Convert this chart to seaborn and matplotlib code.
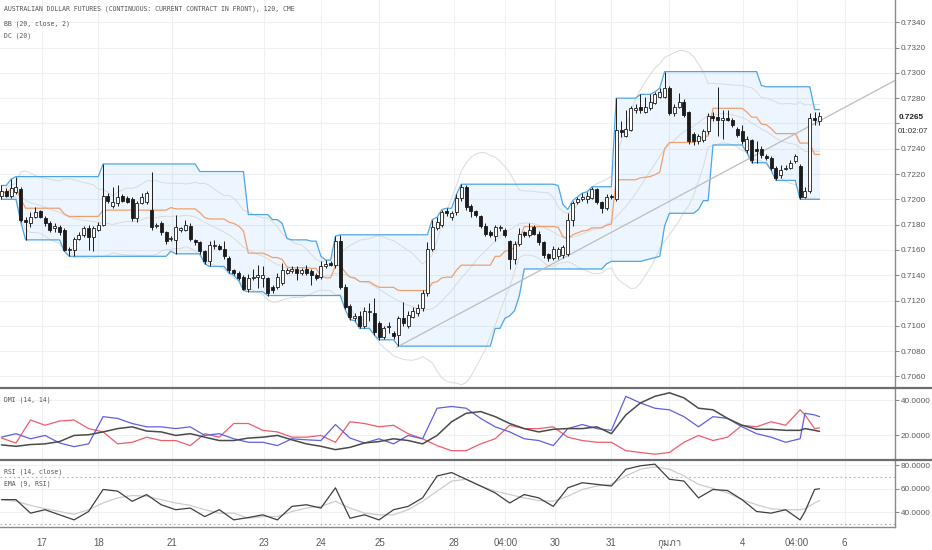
import numpy as np
import pandas as pd
import seaborn as sns
import matplotlib.pyplot as plt
import matplotlib.transforms as mtransforms
from matplotlib.lines import Line2D
from matplotlib import font_manager
from matplotlib.ft2font import FT2Font

# 120-minute bars (price)
opens = [0.7203, 0.7207, 0.7203, 0.7206, 0.7208, 0.7184, 0.7181, 0.7186, 0.7191, 0.7185,
         0.7181, 0.7177, 0.7178, 0.7176, 0.7160, 0.7160, 0.7169, 0.7172, 0.7177, 0.7170,
         0.7176, 0.7180, 0.7203, 0.7195, 0.7197, 0.7203, 0.7201, 0.7200, 0.7185, 0.7197,
         0.7198, 0.7192, 0.7179, 0.7181, 0.7174, 0.7169, 0.7168, 0.7176, 0.7176, 0.7179,
         0.7168, 0.7166, 0.7159,
         0.7151, 0.7163, 0.7163, 0.7161, 0.7154, 0.7144, 0.7142, 0.7139, 0.7129, 0.7138,
         0.7139, 0.7138, 0.7138, 0.7131, 0.7131, 0.7134, 0.7142, 0.7143, 0.7145, 0.7142,
         0.7145, 0.7143, 0.7140, 0.7139, 0.7147, 0.7150, 0.7148, 0.7167, 0.7131, 0.7116,
         0.7106, 0.7108, 0.7100, 0.7111, 0.7110, 0.7102, 0.7091, 0.7099, 0.7094, 0.7093,
         0.7106, 0.7100, 0.7107, 0.7110,
         0.7114, 0.7126, 0.7161, 0.7177, 0.7180, 0.7191, 0.7186, 0.7190, 0.7201, 0.7210,
         0.7195, 0.7191, 0.7187, 0.7179, 0.7174, 0.7171, 0.7177, 0.7176, 0.7167, 0.7153,
         0.7165, 0.7174, 0.7172, 0.7178, 0.7173, 0.7166, 0.7157, 0.7154, 0.7155, 0.7156,
         0.7157, 0.7184, 0.7198, 0.7200, 0.7200, 0.7201, 0.7208, 0.7198, 0.7193, 0.7203,
         0.7200,
         0.7255, 0.7250, 0.7255, 0.7271, 0.7273, 0.7269, 0.7272, 0.7276, 0.7281, 0.7281,
         0.7288, 0.7268, 0.7273, 0.7277, 0.7269, 0.7252, 0.7246, 0.7247, 0.7254, 0.7266,
         0.7265, 0.7263, 0.7264, 0.7263, 0.7256, 0.7254, 0.7239, 0.7247, 0.7240, 0.7240,
         0.7234, 0.7233, 0.7225, 0.7219, 0.7224, 0.7225, 0.7230, 0.7226, 0.7202, 0.7207,
         0.7264, 0.7262]
highs = [0.7211, 0.7209, 0.7216, 0.7218, 0.7210, 0.7186, 0.7190, 0.7194, 0.7192, 0.7187,
         0.7183, 0.7181, 0.7180, 0.7177, 0.7162, 0.7170, 0.7174, 0.7179, 0.7180, 0.7179,
         0.7182, 0.7228, 0.7205, 0.7210, 0.7211, 0.7204, 0.7203, 0.7202, 0.7199, 0.7205,
         0.7207, 0.7222, 0.7181, 0.7183, 0.7175, 0.7171, 0.7188, 0.7178, 0.7184, 0.7181,
         0.7169, 0.7167, 0.7160,
         0.7167, 0.7168, 0.7165, 0.7167, 0.7155, 0.7145, 0.7143, 0.7140, 0.7141, 0.7145,
         0.7148, 0.7147, 0.7139, 0.7132, 0.7142, 0.7150, 0.7146, 0.7147, 0.7147, 0.7146,
         0.7148, 0.7145, 0.7142, 0.7151, 0.7152, 0.7151, 0.7171, 0.7172, 0.7133, 0.7117,
         0.7110, 0.7112, 0.7115, 0.7118, 0.7122, 0.7104, 0.7100, 0.7103, 0.7096, 0.7108,
         0.7119, 0.7112, 0.7115, 0.7117,
         0.7128, 0.7166, 0.7184, 0.7186, 0.7192, 0.7193, 0.7191, 0.7204, 0.7212, 0.7211,
         0.7196, 0.7192, 0.7188, 0.7181, 0.7176, 0.7180, 0.7180, 0.7177, 0.7168, 0.7167,
         0.7177, 0.7175, 0.7181, 0.7180, 0.7175, 0.7167, 0.7158, 0.7163, 0.7162, 0.7164,
         0.7189, 0.7199, 0.7202, 0.7205, 0.7206, 0.7210, 0.7209, 0.7199, 0.7204, 0.7204,
         0.7280,
         0.7262, 0.7271, 0.7274, 0.7275, 0.7283, 0.7281, 0.7283, 0.7285, 0.7288, 0.7301,
         0.7290, 0.7275, 0.7284, 0.7279, 0.7270, 0.7253, 0.7252, 0.7256, 0.7268, 0.7269,
         0.7289, 0.7271, 0.7271, 0.7264, 0.7257, 0.7259, 0.7250, 0.7248, 0.7246, 0.7242,
         0.7236, 0.7234, 0.7226, 0.7227, 0.7227, 0.7231, 0.7236, 0.7228, 0.7210, 0.7268,
         0.7269, 0.7269]
lows = [0.7200, 0.7202, 0.7201, 0.7204, 0.7182, 0.7168, 0.7178, 0.7185, 0.7185, 0.7179,
        0.7174, 0.7174, 0.7172, 0.7159, 0.7155, 0.7155, 0.7168, 0.7170, 0.7160, 0.7159,
        0.7175, 0.7179, 0.7197, 0.7193, 0.7195, 0.7198, 0.7197, 0.7183, 0.7182, 0.7196,
        0.7196, 0.7176, 0.7177, 0.7172, 0.7165, 0.7167, 0.7157, 0.7174, 0.7175, 0.7167,
        0.7164, 0.7157, 0.7149,
        0.7147, 0.7161, 0.7160, 0.7153, 0.7142, 0.7140, 0.7136, 0.7128, 0.7127, 0.7136,
        0.7130, 0.7131, 0.7124, 0.7126, 0.7129, 0.7132, 0.7141, 0.7142, 0.7136, 0.7140,
        0.7140, 0.7132, 0.7136, 0.7137, 0.7146, 0.7147, 0.7146, 0.7129, 0.7113, 0.7105,
        0.7104, 0.7098, 0.7098, 0.7104, 0.7093, 0.7089, 0.7090, 0.7094, 0.7090, 0.7084,
        0.7100, 0.7098, 0.7106, 0.7108,
        0.7112, 0.7124, 0.7159, 0.7176, 0.7178, 0.7187, 0.7184, 0.7188, 0.7199, 0.7192,
        0.7186, 0.7186, 0.7177, 0.7171, 0.7170, 0.7167, 0.7175, 0.7170, 0.7145, 0.7149,
        0.7163, 0.7170, 0.7170, 0.7172, 0.7164, 0.7154, 0.7151, 0.7152, 0.7153, 0.7154,
        0.7155, 0.7179, 0.7196, 0.7199, 0.7197, 0.7200, 0.7196, 0.7189, 0.7192, 0.7200,
        0.7199,
        0.7249, 0.7249, 0.7254, 0.7268, 0.7268, 0.7268, 0.7271, 0.7275, 0.7280, 0.7280,
        0.7267, 0.7266, 0.7272, 0.7265, 0.7244, 0.7243, 0.7244, 0.7245, 0.7252, 0.7262,
        0.7250, 0.7248, 0.7262, 0.7257, 0.7249, 0.7244, 0.7237, 0.7229, 0.7229, 0.7233,
        0.7231, 0.7223, 0.7215, 0.7217, 0.7223, 0.7224, 0.7229, 0.7200, 0.7201, 0.7205,
        0.7259, 0.7259]
closes = [0.7207, 0.7203, 0.7209, 0.7210, 0.7184, 0.7182, 0.7186, 0.7190, 0.7186, 0.7181,
          0.7176, 0.7179, 0.7174, 0.7160, 0.7161, 0.7169, 0.7172, 0.7177, 0.7170, 0.7177,
          0.7180, 0.7203, 0.7199, 0.7198, 0.7202, 0.7199, 0.7198, 0.7185, 0.7197, 0.7202,
          0.7205, 0.7178, 0.7180, 0.7174, 0.7167, 0.7169, 0.7178, 0.7177, 0.7180, 0.7169,
          0.7166, 0.7159, 0.7151,
          0.7164, 0.7164, 0.7161, 0.7155, 0.7144, 0.7142, 0.7138, 0.7129, 0.7138, 0.7139,
          0.7140, 0.7140, 0.7126, 0.7128, 0.7139, 0.7144, 0.7144, 0.7145, 0.7142, 0.7144,
          0.7142, 0.7140, 0.7138, 0.7147, 0.7149, 0.7148, 0.7167, 0.7131, 0.7115, 0.7107,
          0.7108, 0.7100, 0.7112, 0.7112, 0.7095, 0.7091, 0.7098, 0.7100, 0.7092, 0.7106,
          0.7102, 0.7109, 0.7112, 0.7114,
          0.7126, 0.7161, 0.7178, 0.7182, 0.7190, 0.7189, 0.7189, 0.7201, 0.7210, 0.7194,
          0.7191, 0.7188, 0.7179, 0.7173, 0.7172, 0.7178, 0.7178, 0.7172, 0.7153, 0.7165,
          0.7173, 0.7172, 0.7176, 0.7173, 0.7166, 0.7156, 0.7154, 0.7161, 0.7161, 0.7162,
          0.7184, 0.7197, 0.7200, 0.7202, 0.7203, 0.7208, 0.7198, 0.7193, 0.7202, 0.7202,
          0.7255,
          0.7253, 0.7256, 0.7272, 0.7272, 0.7271, 0.7273, 0.7277, 0.7283, 0.7285, 0.7288,
          0.7268, 0.7273, 0.7277, 0.7267, 0.7246, 0.7246, 0.7250, 0.7254, 0.7266, 0.7264,
          0.7263, 0.7264, 0.7263, 0.7259, 0.7251, 0.7246, 0.7248, 0.7231, 0.7238, 0.7235,
          0.7233, 0.7225, 0.7217, 0.7223, 0.7225, 0.7229, 0.7234, 0.7202, 0.7207, 0.7264,
          0.7263, 0.7266]

# indicator panels, sampled along the bar index
ind_idx = list(range(0, 163, 3)) + [165, 166, 168, 169]
di_plus = [19.0, 21.0, 18.1, 20.0, 15.7, 13.6, 15.2, 30.7, 29.7, 26.8, 24.9, 24.9, 23.9, 24.9, 20.0, 21.0,
           18.1, 16.1, 16.1, 14.2, 18.1, 17.5, 17.1, 26.2, 18.5, 15.7, 18.1, 15.2, 20.0, 18.1, 35.5, 36.5,
           35.5, 29.7, 24.9, 22.0, 18.1, 17.1, 14.2, 23.9, 26.2, 23.9, 22.9, 42.3, 38.5, 35.5, 34.6,
           30.7, 24.9, 30.7, 29.7, 24.9, 21.0, 19.0, 16.1, 18.1, 32.6, 31.7, 30.7]
di_minus = [18.5, 15.7, 28.8, 25.8, 28.2, 28.8, 23.9, 22.0, 15.2, 16.1, 19.0, 17.1, 17.1, 14.2, 21.0, 19.0,
            26.8, 26.8, 22.9, 22.0, 19.0, 19.0, 20.0, 16.1, 27.8, 26.8, 24.9, 25.8, 21.0, 18.1, 14.2, 11.3,
            11.3, 15.2, 18.1, 25.8, 23.9, 23.9, 24.9, 19.0, 17.1, 16.1, 16.1, 11.3, 10.3, 9.3, 10.3,
            16.1, 20.0, 17.1, 19.0, 25.8, 24.9, 27.8, 25.8, 34.6, 31.7, 23.9, 24.3]
adx = [14.6, 13.8, 14.8, 15.2, 16.5, 20.0, 20.4, 22.0, 23.9, 24.9, 22.5, 22.0, 20.0, 21.0, 19.0, 17.1,
       17.1, 18.5, 19.0, 20.0, 17.5, 15.2, 13.8, 11.9, 13.2, 15.7, 16.5, 18.1, 17.1, 15.2, 20.0, 27.8,
       32.6, 33.6, 30.7, 26.8, 23.9, 22.0, 23.5, 23.9, 23.9, 24.9, 21.0, 31.7, 38.5, 42.3, 44.3,
       41.4, 35.5, 34.6, 29.7, 25.8, 23.5, 23.5, 22.9, 22.9, 23.9, 22.9, 22.3]
rsi = [50.8, 50.8, 39.4, 42.3, 38.0, 33.7, 40.8, 59.4, 58.0, 49.4, 55.1, 46.5, 42.3, 43.7, 36.5, 42.3,
       33.7, 35.7, 38.0, 33.7, 45.1, 46.5, 43.7, 60.8, 35.1, 38.0, 33.7, 42.3, 45.1, 52.3, 70.8, 73.7,
       68.0, 62.3, 56.5, 48.0, 55.1, 52.3, 45.1, 60.8, 65.1, 63.7, 62.3, 76.5, 79.4, 80.8, 68.0,
       66.5, 52.3, 59.4, 58.5, 50.8, 40.8, 39.4, 42.3, 33.7, 40.8, 59.4, 60.0]
rsi_ema = [50.8, 49.4, 46.0, 43.1, 40.8, 38.5, 42.3, 48.0, 52.3, 54.3, 53.7, 50.8, 48.0, 46.0, 42.3, 39.4,
           39.4, 35.1, 36.5, 36.5, 40.8, 43.7, 45.1, 49.4, 43.7, 39.4, 38.0, 38.0, 42.3, 49.4, 58.0, 66.5,
           68.0, 62.3, 58.0, 55.1, 52.3, 50.0, 49.4, 53.7, 59.4, 62.3, 63.7, 70.8, 76.5, 78.5, 76.5,
           70.8, 63.7, 60.3, 56.5, 50.8, 46.5, 43.1, 42.3, 42.3, 43.1, 48.0, 50.0]

# hand-drawn trend line (bar index, price)
trend_x = [81.6, 184.6]
trend_y = [0.7083, 0.7294]

day_ticks = [8.3, 20.0, 35.3, 54.3, 66.1, 78.1, 93.4, 104.1, 114.3, 126.0, 138.0, 153.1, 164.3, 174.2]
day_labels = ['17', '18', '21', '23', '24', '25', '28', '04:00', '30', '31', 'กุมภา', '4', '04:00', '6']
price_ticks = [0.7060, 0.7080, 0.7100, 0.7120, 0.7140, 0.7160, 0.7180, 0.7200,
               0.7220, 0.7240, 0.7260, 0.7280, 0.7300, 0.7320, 0.7340]
last_price = 0.7265
countdown = '01:02:07'


def families_with(ch):
    # installed families that carry a glyph for ch
    names = []
    for f in font_manager.fontManager.ttflist:
        if f.name in names:
            continue
        try:
            if ord(ch) in FT2Font(f.fname).get_charmap():
                names.append(f.name)
        except Exception:
            pass
    return names


sns.set_style('white')
base_fams = ['Liberation Sans', 'DejaVu Sans']
thai_fams = families_with('ก')
plt.rcParams['font.family'] = base_fams + thai_fams[:2] + ['Noto Sans CJK SC']

df = pd.DataFrame({'open': opens, 'high': highs, 'low': lows, 'close': closes})
df['i'] = np.arange(len(df))
# Donchian channel and Bollinger bands, 20 bars
df['dc_up'] = df['high'].rolling(20, min_periods=1).max()
df['dc_lo'] = df['low'].rolling(20, min_periods=1).min()
df['dc_mid'] = (df['dc_up'] + df['dc_lo']) / 2
df['bb_mid'] = df['close'].rolling(20, min_periods=2).mean()
sd = df['close'].rolling(20, min_periods=2).std(ddof=0)
df['bb_up'] = df['bb_mid'] + 2 * sd
df['bb_lo'] = df['bb_mid'] - 2 * sd

ind = pd.DataFrame({'i': ind_idx, 'di_plus': di_plus, 'di_minus': di_minus,
                    'adx': adx, 'rsi': rsi, 'ema': rsi_ema})

fig = plt.figure(figsize=(9.32, 5.5), dpi=100)
W = 895 / 932
ax1 = fig.add_axes([0, 1 - 387 / 550, W, 387 / 550])
ax2 = fig.add_axes([0, 1 - 460 / 550, W, 73 / 550], sharex=ax1)
ax3 = fig.add_axes([0, 1 - 527 / 550, W, 67 / 550], sharex=ax1)

grid_c = '#eef0f4'
text_c = '#5a5a5a'
for ax in (ax1, ax2, ax3):
    ax.set_axisbelow(True)
    ax.yaxis.tick_right()
    ax.grid(True, color=grid_c, lw=0.8)
    for s in ('left', 'top', 'bottom'):
        ax.spines[s].set_visible(False)
    ax.spines['right'].set_color('#8a8a8a')
    ax.spines['right'].set_linewidth(1.0)
    ax.tick_params(axis='y', length=3, width=0.8, color='#8a8a8a', pad=1.2,
                   labelsize=5.9, labelcolor=text_c)
    ax.tick_params(axis='x', length=0, labelbottom=False)
    ax.set_xticks(day_ticks)

# ---- price panel ----
ax1.fill_between(df['i'], df['dc_lo'], df['dc_up'], color='#2196f3', alpha=0.08, lw=0, zorder=1)
for col in ('bb_up', 'bb_lo', 'bb_mid'):
    sns.lineplot(data=df, x='i', y=col, ax=ax1, color='#dadada', lw=0.7, zorder=2)
sns.lineplot(data=df, x='i', y='dc_up', ax=ax1, color='#4ea6e4', lw=0.9, zorder=2)
sns.lineplot(data=df, x='i', y='dc_lo', ax=ax1, color='#4ea6e4', lw=0.9, zorder=2)
sns.lineplot(data=df, x='i', y='dc_mid', ax=ax1, color='#f0a070', lw=0.9, zorder=2)
ax1.plot(trend_x, trend_y, color='#bdbdbd', lw=0.9, zorder=2)

up = df['close'] >= df['open']
body_lo = df[['open', 'close']].min(axis=1)
body_h = (df['close'] - df['open']).abs().clip(lower=0.00002)
ax1.vlines(df['i'], df['low'], df['high'], color='#1b1b1b', lw=0.7, zorder=3)
ax1.bar(df['i'], body_h, bottom=body_lo, width=0.62,
        color=np.where(up, 'white', '#1b1b1b'), edgecolor='#1b1b1b', linewidth=0.6, zorder=4)

ax1.set_ylim(0.70517, 0.73576)
ax1.set_yticks(price_ticks)
ax1.set_yticklabels(['' if abs(p - 0.7260) < 1e-6 else f'{p:.4f}' for p in price_ticks])
ax1.set_xlim(-0.3, 184.6)
ax1.set_xlabel('')
ax1.set_ylabel('')

trans = mtransforms.blended_transform_factory(ax1.transAxes, ax1.transData)
ax1.annotate(f'{last_price:.4f}', xy=(1, last_price), xycoords=trans, xytext=(4, 0),
             textcoords='offset pixels', va='center', ha='left', fontsize=5.9,
             fontweight='bold', color='#222222', annotation_clip=False)
ax1.annotate(countdown, xy=(1, last_price), xycoords=trans, xytext=(3, -14),
             textcoords='offset pixels', va='center', ha='left', fontsize=5.7,
             color='#333333', annotation_clip=False)

# ---- DMI panel ----
sns.lineplot(data=ind, x='i', y='di_minus', ax=ax2, color='#ef5c6a', lw=0.9)
sns.lineplot(data=ind, x='i', y='di_plus', ax=ax2, color='#5f5fe0', lw=0.9)
sns.lineplot(data=ind, x='i', y='adx', ax=ax2, color='#4a4a4a', lw=1.1)
ax2.set_ylim(6.0, 47.6)
ax2.set_yticks([20, 40])
ax2.set_yticklabels(['20.0000', '40.0000'])
ax2.set_xlabel('')
ax2.set_ylabel('')

# ---- RSI panel ----
for lvl in (70, 30):
    ax3.axhline(lvl, color='#b0b0b0', lw=0.8, ls=(0, (1.5, 2.5)), zorder=1)
sns.lineplot(data=ind, x='i', y='ema', ax=ax3, color='#cccccc', lw=0.9)
sns.lineplot(data=ind, x='i', y='rsi', ax=ax3, color='#3f3f3f', lw=0.9)
ax3.set_ylim(27.7, 84.3)
ax3.set_yticks([40, 60, 80])
ax3.set_yticklabels(['40.0000', '60.0000', '80.0000'])
ax3.spines['bottom'].set_visible(True)
ax3.spines['bottom'].set_color('#8a8a8a')
ax3.spines['bottom'].set_linewidth(1.0)
ax3.tick_params(axis='x', labelbottom=True, length=0, pad=8, labelsize=7, labelcolor=text_c)
ax3.set_xticklabels(day_labels)
ax3.set_xlabel('')
ax3.set_ylabel('')
ax3.set_xlim(-0.3, 184.6)

# panel separators across the full width
for ypx in (387.5, 460):
    fig.add_artist(Line2D([0, 1], [1 - ypx / 550] * 2, transform=fig.transFigure,
                          color='#6e6e6e', lw=1.6))

mono = 'DejaVu Sans Mono'
legend_texts = [(9, 'AUSTRALIAN DOLLAR FUTURES (CONTINUOUS: CURRENT CONTRACT IN FRONT), 120, CME'),
                (24, 'BB (20, close, 2)'), (36, 'DC (20)'), (400, 'DMI (14, 14)'),
                (472, 'RSI (14, close)'), (484, 'EMA (9, RSI)')]
for ypx, txt in legend_texts:
    fig.text(4 / 932, 1 - ypx / 550, txt, family=mono, fontsize=4.7, color='#555555', va='center')

fig.savefig('out.png', dpi=100)
